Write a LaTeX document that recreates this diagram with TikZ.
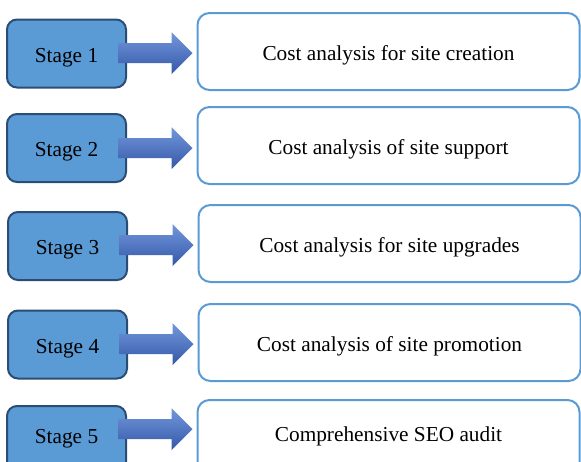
\documentclass[tikz,border=0pt]{standalone}
\usepackage{fontspec}
\setmainfont{Liberation Serif}
\usetikzlibrary{calc}
\definecolor{stagefill}{HTML}{5B9BD5}
\definecolor{stageline}{HTML}{2B4C74}
\definecolor{costline}{HTML}{5B9BD5}
\definecolor{arrowtop}{HTML}{7397DC}
\definecolor{arrowbot}{HTML}{3558A8}
\tikzset{
  stagebox/.style={draw=stageline, line width=2pt, fill=stagefill, rounded corners=10pt,
    minimum width=119pt, minimum height=68pt, inner sep=0pt, text=black,
    text height=17pt, text depth=0pt},
  costbox/.style={draw=costline, line width=2pt, fill=white, rounded corners=12pt,
    minimum width=382pt, minimum height=77pt, inner sep=0pt, text=black,
    text height=17pt, text depth=0pt},
  lastrow/.style={text height=10pt, text depth=4pt},
  arrowfill/.style={top color=arrowtop, bottom color=arrowbot, draw=none},
}
% block arrow from tail #1 to tip #2, drawn level with the tip
\newcommand\blockarrow[2]{%
  \shade[arrowfill] let \p1=(#1), \p2=(#2) in
    (\x1,\y2+10pt) -- (\x2-21pt,\y2+10pt) -- (\x2-21pt,\y2+21pt) -- (\x2,\y2)
    -- (\x2-21pt,\y2-21pt) -- (\x2-21pt,\y2-10pt) -- (\x1,\y2-10pt) -- cycle;}
\begin{document}
\begin{tikzpicture}[x=1pt, y=-1pt, font=\fontsize{21.3}{25}\selectfont]
\path[use as bounding box] (0,0) rectangle (581,461);
\clip (0,0) rectangle (581,461);

\node[stagebox] (s1) at (66.5,53.5) {Stage 1};
\node[stagebox] (s2) at (66.5,148) {Stage 2};
\node[stagebox] (s3) at (67.5,246) {Stage 3};
\node[stagebox] (s4) at (67.5,344.5) {Stage 4};
\node[stagebox, lastrow] (s5) at (66.5,440) {Stage 5};

\node[costbox] (c1) at (388.5,51.5) {Cost analysis for site creation};
\node[costbox] (c2) at (388.5,145.5) {Cost analysis of site support};
\node[costbox] (c3) at (389.5,243.5) {Cost analysis for site upgrades};
\node[costbox] (c4) at (389.5,342.5) {Cost analysis of site promotion};
\node[costbox, lastrow] (c5) at (388.5,438.5) {Comprehensive SEO audit};

\coordinate (t1) at ($(c1.west)+(-4,1.5)$);
\coordinate (t2) at ($(c2.west)+(-4,2.5)$);
\coordinate (t3) at ($(c3.west)+(-4,1.5)$);
\coordinate (t4) at ($(c4.west)+(-4,1.5)$);
\coordinate (t5) at ($(c5.west)+(-4,-9.5)$);

\blockarrow{$(s1.east)+(-9,0)$}{t1}
\blockarrow{$(s2.east)+(-9,0)$}{t2}
\blockarrow{$(s3.east)+(-9,0)$}{t3}
\blockarrow{$(s4.east)+(-9,0)$}{t4}
\blockarrow{$(s5.east)+(-9,0)$}{t5}
\end{tikzpicture}
\end{document}
